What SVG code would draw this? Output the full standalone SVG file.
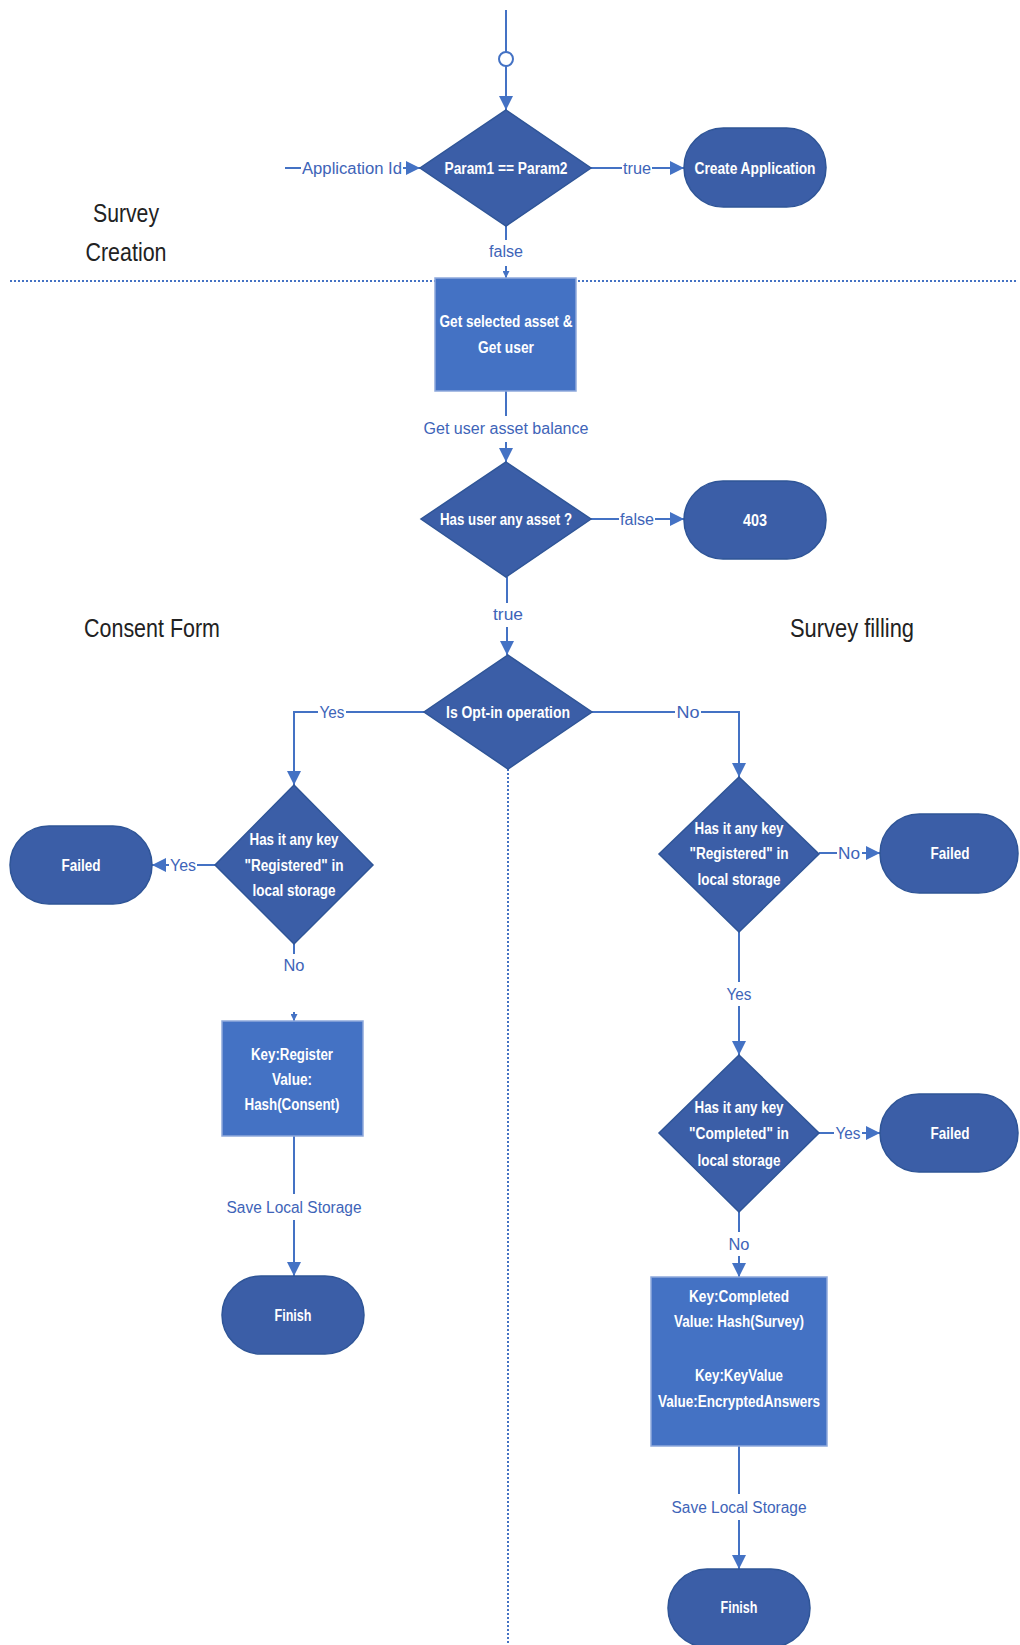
<svg xmlns="http://www.w3.org/2000/svg" width="1020" height="1645" viewBox="0 0 1020 1645">
<style>
.bg{fill:#ffffff}
.lb{fill:#ffffff}
.dec{fill:#3B5EA7;stroke:#2F5597;stroke-width:1.5}
.term{fill:#3B5EA7;stroke:#2F5597;stroke-width:1.5}
.proc{fill:#4472C4;stroke:#8EA9DB;stroke-width:1.5}
.nt{font-family:"Liberation Sans",Arial,sans-serif;font-size:16px;font-weight:bold;fill:#ffffff;text-anchor:middle}
.el{font-family:"Liberation Sans",Arial,sans-serif;font-size:16px;fill:#3E64B8;text-anchor:middle}
.sec{font-family:"Liberation Sans",Arial,sans-serif;font-size:25px;fill:#222222;text-anchor:middle}
.cn{fill:none;stroke:#4472C4;stroke-width:2}
.dot{fill:none;stroke:#4472C4;stroke-width:2;stroke-dasharray:2 2}
</style>
<defs>
<marker id="ah" markerWidth="14" markerHeight="14" refX="14" refY="7" orient="auto" markerUnits="userSpaceOnUse"><path d="M0,0 L14,7 L0,14 z" fill="#4472C4"/></marker>
<marker id="as" markerWidth="7" markerHeight="7" refX="7" refY="3.5" orient="auto" markerUnits="userSpaceOnUse"><path d="M0,0 L7,3.5 L0,7 z" fill="#4472C4"/></marker>
</defs>
<rect class="bg" x="0" y="0" width="1020" height="1645"/>

<g id="separators">
<path class="dot" d="M10,281 H1018"/>
<path class="dot" d="M508,769 V1645"/>
</g>

<g id="section-labels">
<text class="sec" x="126" y="222" textLength="66" lengthAdjust="spacingAndGlyphs">Survey</text>
<text class="sec" x="126" y="261" textLength="81" lengthAdjust="spacingAndGlyphs">Creation</text>
<text class="sec" x="152" y="637" textLength="136" lengthAdjust="spacingAndGlyphs">Consent Form</text>
<text class="sec" x="852" y="637" textLength="124" lengthAdjust="spacingAndGlyphs">Survey filling</text>
</g>

<g id="connectors">
<path class="cn" d="M506,10 V110" marker-end="url(#ah)"/>
<circle cx="506" cy="59" r="7" fill="#ffffff" stroke="#4472C4" stroke-width="2"/>
<path class="cn" d="M285,168 H420" marker-end="url(#ah)"/>
<rect class="lb" x="301" y="158" width="102" height="20"/>
<text class="el" x="352" y="174" textLength="100" lengthAdjust="spacingAndGlyphs">Application Id</text>
<path class="cn" d="M591,168 H684" marker-end="url(#ah)"/>
<rect class="lb" x="622" y="158" width="30" height="20"/>
<text class="el" x="637" y="174" textLength="28" lengthAdjust="spacingAndGlyphs">true</text>
<path class="cn" d="M506,226 V278" marker-end="url(#as)"/>
<rect class="lb" x="487" y="240" width="38" height="26"/>
<text class="el" x="506" y="257" textLength="34" lengthAdjust="spacingAndGlyphs">false</text>
<path class="cn" d="M506,391 V462" marker-end="url(#ah)"/>
<rect class="lb" x="421" y="416" width="169" height="26"/>
<text class="el" x="506" y="434" textLength="165" lengthAdjust="spacingAndGlyphs">Get user asset balance</text>
<path class="cn" d="M591,519 H684" marker-end="url(#ah)"/>
<rect class="lb" x="619" y="509" width="36" height="20"/>
<text class="el" x="637" y="525" textLength="34" lengthAdjust="spacingAndGlyphs">false</text>
<path class="cn" d="M507,577 V655" marker-end="url(#ah)"/>
<rect class="lb" x="491" y="603" width="34" height="24"/>
<text class="el" x="508" y="620" textLength="30" lengthAdjust="spacingAndGlyphs">true</text>
<path class="cn" d="M424,712 H294 V785" marker-end="url(#ah)"/>
<rect class="lb" x="318" y="702" width="28" height="20"/>
<text class="el" x="332" y="718" textLength="25" lengthAdjust="spacingAndGlyphs">Yes</text>
<path class="cn" d="M215,865 H152" marker-end="url(#ah)"/>
<rect class="lb" x="169" y="855" width="28" height="20"/>
<text class="el" x="183" y="871" textLength="26" lengthAdjust="spacingAndGlyphs">Yes</text>
<path class="cn" d="M294,944 V1021" marker-end="url(#as)"/>
<rect class="lb" x="280" y="954" width="28" height="58"/>
<text class="el" x="294" y="971" textLength="21" lengthAdjust="spacingAndGlyphs">No</text>
<path class="cn" d="M294,1136 V1276" marker-end="url(#ah)"/>
<rect class="lb" x="225" y="1194" width="139" height="26"/>
<text class="el" x="294" y="1213" textLength="135" lengthAdjust="spacingAndGlyphs">Save Local Storage</text>
<path class="cn" d="M592,712 H739 V777" marker-end="url(#ah)"/>
<rect class="lb" x="675" y="702" width="26" height="20"/>
<text class="el" x="688" y="718" textLength="23" lengthAdjust="spacingAndGlyphs">No</text>
<path class="cn" d="M819,853 H880" marker-end="url(#ah)"/>
<rect class="lb" x="837" y="843" width="25" height="20"/>
<text class="el" x="849" y="859" textLength="22" lengthAdjust="spacingAndGlyphs">No</text>
<path class="cn" d="M739,932 V1055" marker-end="url(#ah)"/>
<rect class="lb" x="724" y="982" width="30" height="24"/>
<text class="el" x="739" y="1000" textLength="25" lengthAdjust="spacingAndGlyphs">Yes</text>
<path class="cn" d="M819,1133 H880" marker-end="url(#ah)"/>
<rect class="lb" x="834" y="1123" width="28" height="20"/>
<text class="el" x="848" y="1139" textLength="25" lengthAdjust="spacingAndGlyphs">Yes</text>
<path class="cn" d="M739,1212 V1277" marker-end="url(#ah)"/>
<rect class="lb" x="727" y="1232" width="24" height="24"/>
<text class="el" x="739" y="1250" textLength="21" lengthAdjust="spacingAndGlyphs">No</text>
<path class="cn" d="M739,1446 V1569" marker-end="url(#ah)"/>
<rect class="lb" x="670" y="1494" width="139" height="26"/>
<text class="el" x="739" y="1513" textLength="135" lengthAdjust="spacingAndGlyphs">Save Local Storage</text>
</g>

<g id="d-param">
<polygon class="dec" points="506,110 591,168 506,226 420,168"/>
<text class="nt" x="506" y="174" textLength="123" lengthAdjust="spacingAndGlyphs">Param1 == Param2</text>
</g>
<g id="t-create">
<rect class="term" x="684" y="128" width="142" height="79" rx="39.5"/>
<text class="nt" x="755" y="174" textLength="121" lengthAdjust="spacingAndGlyphs">Create Application</text>
</g>
<g id="p-get">
<rect class="proc" x="435" y="278" width="141" height="113"/>
<text class="nt" x="506" y="327" textLength="133" lengthAdjust="spacingAndGlyphs">Get selected asset &amp;</text>
<text class="nt" x="506" y="353" textLength="56" lengthAdjust="spacingAndGlyphs">Get user</text>
</g>
<g id="d-asset">
<polygon class="dec" points="506,462 591,519 506,577 421,519"/>
<text class="nt" x="506" y="525" textLength="132" lengthAdjust="spacingAndGlyphs">Has user any asset ?</text>
</g>
<g id="t-403">
<rect class="term" x="684" y="481" width="142" height="78" rx="39"/>
<text class="nt" x="755" y="526" textLength="24" lengthAdjust="spacingAndGlyphs">403</text>
</g>
<g id="d-optin">
<polygon class="dec" points="508,655 592,712 508,769 424,712"/>
<text class="nt" x="508" y="718" textLength="124" lengthAdjust="spacingAndGlyphs">Is Opt-in operation</text>
</g>
<g id="d-registered-left">
<polygon class="dec" points="294,785 373,865 294,944 215,865"/>
<text class="nt" x="294" y="845" textLength="89" lengthAdjust="spacingAndGlyphs">Has it any key</text>
<text class="nt" x="294" y="871" textLength="99" lengthAdjust="spacingAndGlyphs">"Registered" in</text>
<text class="nt" x="294" y="896" textLength="83" lengthAdjust="spacingAndGlyphs">local storage</text>
</g>
<g id="t-failed-left">
<rect class="term" x="10" y="826" width="142" height="78" rx="39"/>
<text class="nt" x="81" y="871" textLength="39" lengthAdjust="spacingAndGlyphs">Failed</text>
</g>
<g id="p-register">
<rect class="proc" x="222" y="1021" width="141" height="115"/>
<text class="nt" x="292" y="1060" textLength="82" lengthAdjust="spacingAndGlyphs">Key:Register</text>
<text class="nt" x="292" y="1085" textLength="40" lengthAdjust="spacingAndGlyphs">Value:</text>
<text class="nt" x="292" y="1110" textLength="95" lengthAdjust="spacingAndGlyphs">Hash(Consent)</text>
</g>
<g id="t-finish-left">
<rect class="term" x="222" y="1276" width="142" height="78" rx="39"/>
<text class="nt" x="293" y="1321" textLength="37" lengthAdjust="spacingAndGlyphs">Finish</text>
</g>
<g id="d-registered-right">
<polygon class="dec" points="739,777 819,854 739,932 659,854"/>
<text class="nt" x="739" y="834" textLength="89" lengthAdjust="spacingAndGlyphs">Has it any key</text>
<text class="nt" x="739" y="859" textLength="99" lengthAdjust="spacingAndGlyphs">"Registered" in</text>
<text class="nt" x="739" y="885" textLength="83" lengthAdjust="spacingAndGlyphs">local storage</text>
</g>
<g id="t-failed-right1">
<rect class="term" x="880" y="814" width="138" height="79" rx="39.5"/>
<text class="nt" x="950" y="859" textLength="39" lengthAdjust="spacingAndGlyphs">Failed</text>
</g>
<g id="d-completed">
<polygon class="dec" points="739,1055 819,1133 739,1212 659,1133"/>
<text class="nt" x="739" y="1113" textLength="89" lengthAdjust="spacingAndGlyphs">Has it any key</text>
<text class="nt" x="739" y="1139" textLength="100" lengthAdjust="spacingAndGlyphs">"Completed" in</text>
<text class="nt" x="739" y="1166" textLength="83" lengthAdjust="spacingAndGlyphs">local storage</text>
</g>
<g id="t-failed-right2">
<rect class="term" x="880" y="1094" width="138" height="78" rx="39"/>
<text class="nt" x="950" y="1139" textLength="39" lengthAdjust="spacingAndGlyphs">Failed</text>
</g>
<g id="p-completed">
<rect class="proc" x="651" y="1277" width="176" height="169"/>
<text class="nt" x="739" y="1302" textLength="100" lengthAdjust="spacingAndGlyphs">Key:Completed</text>
<text class="nt" x="739" y="1327" textLength="130" lengthAdjust="spacingAndGlyphs">Value: Hash(Survey)</text>
<text class="nt" x="739" y="1381" textLength="88" lengthAdjust="spacingAndGlyphs">Key:KeyValue</text>
<text class="nt" x="739" y="1407" textLength="162" lengthAdjust="spacingAndGlyphs">Value:EncryptedAnswers</text>
</g>
<g id="t-finish-right">
<rect class="term" x="668" y="1569" width="142" height="78" rx="39"/>
<text class="nt" x="739" y="1613" textLength="37" lengthAdjust="spacingAndGlyphs">Finish</text>
</g>
</svg>
